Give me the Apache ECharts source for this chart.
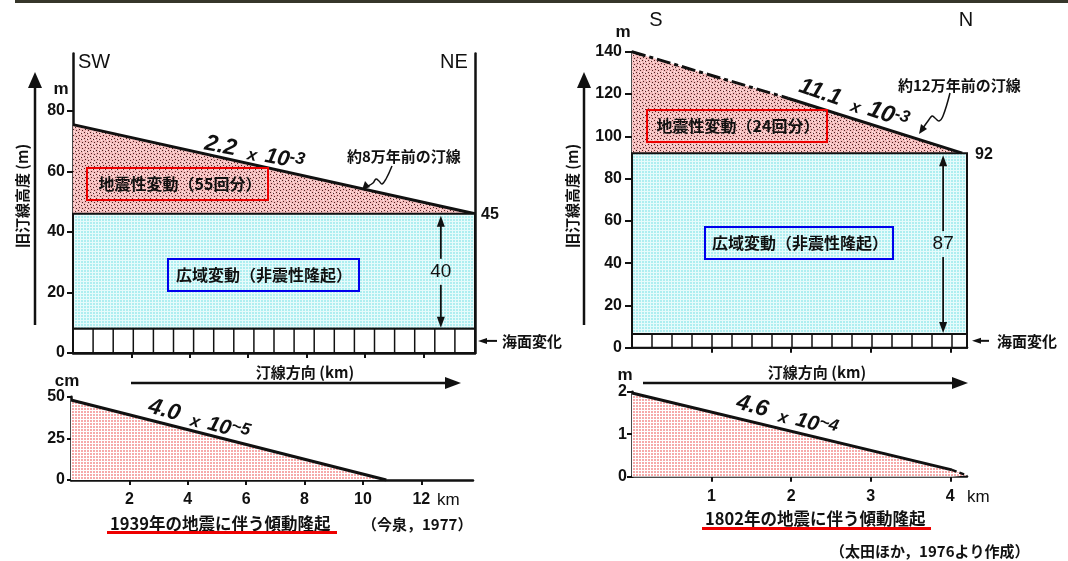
<!DOCTYPE html>
<html><head><meta charset="utf-8">
<script src="https://cdn.jsdelivr.net/npm/echarts@6/dist/echarts.min.js"></script>
<style>html,body{margin:0;padding:0;background:#fff}#c{width:1068px;height:561px}</style>
</head><body><div id="c"></div>
<script>
// ---------- DATA ----------
// Top-left panel (SW -> NE), shoreline direction in km, heights in m
const swKm = [0, 13.77];
const swShore8 = [75.5, 46];          // 約8万年前の汀線
const swWide = [8, 46];               // 広域変動（非震性隆起） band bottom/top
const swSea = [0, 8];                 // 海面変化 strip
const swYTicks = [0, 20, 40, 60, 80];
const swKmTicks = [2, 4, 6, 8, 10, 12];
const swArrowKm = 12.6;
// Bottom-left panel: 1939 earthquake tilting (cm)
const eq1939Km = [0, 10.8];
const eq1939Cm = [48, 0];
const eq1939YTicks = [0, 25, 50];
// Top-right panel (S -> N)
const snKm = [0, 4.21];
const snShoreKmDash = [0, 1.96];
const snShoreDash = [140, 118];
const snShoreKmSolid = [1.96, 4.15];
const snShoreSolid = [118, 92];       // 約12万年前の汀線
const snWide = [6.5, 92];
const snSea = [0, 6.5];
const snYTicks = [0, 20, 40, 60, 80, 100, 120, 140];
const snKmTicks = [1, 2, 3, 4];
const snArrowKm = 3.91;
// Bottom-right panel: 1802 earthquake tilting (m)
const eq1802KmSolid = [0, 4.02];
const eq1802MSolid = [1.97, 0.16];
const eq1802KmDash = [4.02, 4.21];
const eq1802MDash = [0.16, 0.03];
const eq1802YTicks = [0, 1, 2];

// ---------- STYLE ----------
const FN = '"Liberation Sans", Arial, sans-serif';
const FJ = '"Noto Sans CJK JP", sans-serif';
const INK = '#111';
function pattern(w, h, base, pixels) {
  const c = document.createElement('canvas'); c.width = w; c.height = h;
  const g = c.getContext('2d'); g.fillStyle = base; g.fillRect(0, 0, w, h);
  pixels.forEach(p => { g.fillStyle = p[2]; g.fillRect(p[0], p[1], 1, 1); });
  return { image: c, repeat: 'repeat' };
}
const D = '#4a2020', Wt = '#fde8e8';
const pinkDots = pattern(6, 6, '#f4bcbc', [[0,0,D],[3,1,D],[1,3,D],[4,4,D],[5,2,Wt],[2,5,Wt],[2,1,Wt],[4,0,Wt]]);
const cyanGrid = pattern(3, 3, '#aeeef0', [[2,0,'#e6fbfb'],[2,1,'#e6fbfb'],[2,2,'#e6fbfb'],[0,2,'#e6fbfb'],[1,2,'#e6fbfb']]);
const pinkGrid = pattern(3, 3, '#f6aaaa', [[2,0,'#fff'],[2,1,'#fff'],[2,2,'#fff'],[0,2,'#fff'],[1,2,'#fff']]);

const zip = (a, b) => a.map((v, i) => [v, b[i]]);

function bandRender(fill) {
  return function (params, api) {
    const a = api.coord([api.value(0), api.value(3)]);
    const b = api.coord([api.value(1), api.value(2)]);
    return { type: 'rect', shape: { x: a[0], y: a[1], width: b[0] - a[0], height: b[1] - a[1] },
      style: { fill: fill, stroke: INK, lineWidth: 2 } };
  };
}
function stripRender(cellPx) {
  return function (params, api) {
    const a = api.coord([api.value(0), api.value(3)]);
    const b = api.coord([api.value(1), api.value(2)]);
    const ch = [{ type: 'rect', shape: { x: a[0], y: a[1], width: b[0] - a[0], height: b[1] - a[1] },
      style: { fill: '#fff', stroke: INK, lineWidth: 2 } }];
    for (let x = a[0] + cellPx; x < b[0] - 4; x += cellPx) {
      ch.push({ type: 'line', shape: { x1: x, y1: a[1], x2: x, y2: b[1] }, style: { stroke: INK, lineWidth: 1.5 } });
    }
    return { type: 'group', children: ch };
  };
}

const lbl = (margin) => ({ color: INK, fontFamily: FN, fontWeight: 'bold', fontSize: 16, margin: margin });
function xAx(grid, max, ticks, showLabel, margin) {
  return { type: 'value', gridIndex: grid, min: 0, max: max,
    axisLine: { onZero: false, lineStyle: { color: INK, width: 2.5 } },
    axisTick: { show: true, customValues: ticks, length: 5, lineStyle: { color: INK, width: 2 } },
    axisLabel: Object.assign({ show: showLabel, customValues: ticks }, lbl(margin)),
    splitLine: { show: false } };
}
function yAx(grid, max, ticks, margin, tickLen, pos) {
  return { type: 'value', gridIndex: grid, min: 0, max: max, position: pos || 'left',
    axisLine: { onZero: false, lineStyle: { color: INK, width: 2.5 } },
    axisTick: { show: !pos, customValues: ticks, length: tickLen, lineStyle: { color: INK, width: 2 } },
    axisLabel: Object.assign({ show: !pos, customValues: ticks }, lbl(margin)),
    splitLine: { show: false } };
}

const option = {
  animation: false,
  backgroundColor: '#fff',
  grid: [
    { left: 73, top: 53.5, width: 402, height: 299.5, containLabel: false, outerBoundsMode: 'none' },
    { left: 632, top: 51.7, width: 335, height: 296, containLabel: false, outerBoundsMode: 'none' },
    { left: 71, top: 396.7, width: 402, height: 83.3, containLabel: false, outerBoundsMode: 'none' },
    { left: 632, top: 391.7, width: 335, height: 85, containLabel: false, outerBoundsMode: 'none' }
  ],
  xAxis: [
    xAx(0, swKm[1], swKmTicks, false, 10),
    xAx(1, snKm[1], snKmTicks, false, 10),
    xAx(2, swKm[1], swKmTicks, true, 12),
    xAx(3, snKm[1], snKmTicks, true, 12)
  ],
  yAxis: [
    yAx(0, 99, swYTicks, 8, 6),
    yAx(1, 140, snYTicks, 10, 7),
    yAx(2, 50, eq1939YTicks, 6, 4),
    yAx(3, 2, eq1802YTicks, 5, 5),
    yAx(0, 99, [], 0, 0, 'right')
  ],
  series: [
    // top-left
    { type: 'line', xAxisIndex: 0, yAxisIndex: 0, data: zip(swKm, swShore8), symbol: 'none', z: 2,
      lineStyle: { color: INK, width: 3 }, areaStyle: { color: pinkDots, opacity: 1 } },
    { type: 'custom', xAxisIndex: 0, yAxisIndex: 0, z: 3, renderItem: bandRender(cyanGrid),
      data: [[swKm[0], swKm[1], swWide[0], swWide[1]]] },
    { type: 'custom', xAxisIndex: 0, yAxisIndex: 0, z: 4, renderItem: stripRender(20.1),
      data: [[swKm[0], swKm[1], swSea[0], swSea[1]]] },
    // top-right
    { type: 'line', xAxisIndex: 1, yAxisIndex: 1, data: zip(snShoreKmDash, snShoreDash), symbol: 'none', z: 2,
      lineStyle: { color: INK, width: 3, type: [14, 4, 4, 4] }, areaStyle: { color: pinkDots, opacity: 1 } },
    { type: 'line', xAxisIndex: 1, yAxisIndex: 1, data: zip(snShoreKmSolid, snShoreSolid), symbol: 'none', z: 2,
      lineStyle: { color: INK, width: 3 }, areaStyle: { color: pinkDots, opacity: 1 } },
    { type: 'custom', xAxisIndex: 1, yAxisIndex: 1, z: 3, renderItem: bandRender(cyanGrid),
      data: [[snKm[0], snKm[1], snWide[0], snWide[1]]] },
    { type: 'custom', xAxisIndex: 1, yAxisIndex: 1, z: 4, renderItem: stripRender(20),
      data: [[snKm[0], snKm[1], snSea[0], snSea[1]]] },
    // bottom-left
    { type: 'line', xAxisIndex: 2, yAxisIndex: 2, data: zip(eq1939Km, eq1939Cm), symbol: 'none', z: 2,
      lineStyle: { color: INK, width: 3 }, areaStyle: { color: pinkGrid, opacity: 1 } },
    // bottom-right
    { type: 'line', xAxisIndex: 3, yAxisIndex: 3, data: zip(eq1802KmSolid, eq1802MSolid), symbol: 'none', z: 2,
      lineStyle: { color: INK, width: 3 }, areaStyle: { color: pinkGrid, opacity: 1 } },
    { type: 'line', xAxisIndex: 3, yAxisIndex: 3, data: zip(eq1802KmDash, eq1802MDash), symbol: 'none', z: 2,
      lineStyle: { color: INK, width: 2.5, type: [5, 3] }, areaStyle: { color: pinkGrid, opacity: 1 } }
  ]
};

const chart = echarts.init(document.getElementById('c'), null, { renderer: 'canvas' });
chart.setOption(option);

// ---------- ANNOTATIONS ----------
function T(x, y, text, o) {
  o = o || {};
  const st = { text: text, fill: o.color || INK, fontSize: o.size || 15, fontFamily: o.family || FJ,
      fontWeight: o.weight || 'bold', fontStyle: o.style || 'normal',
      align: o.align || 'left', verticalAlign: o.va || 'middle' };
  if (o.rich) st.rich = o.rich;
  return { type: 'text', x: x, y: y, rotation: o.rot || 0, z: 100, style: st };
}
function L(x1, y1, x2, y2, w, color) {
  return { type: 'line', z: 100, shape: { x1: x1, y1: y1, x2: x2, y2: y2 }, style: { stroke: color || INK, lineWidth: w || 2 } };
}
function P(points) { return { type: 'polygon', z: 100, shape: { points: points }, style: { fill: INK } }; }
function PL(points) { return { type: 'polyline', z: 100, shape: { points: points, smooth: 0.4 }, style: { stroke: INK, lineWidth: 1.5, fill: null } }; }
function R(x, y, w, h, color) {
  return { type: 'rect', z: 100, shape: { x: x, y: y, width: w, height: h }, style: { fill: null, stroke: color, lineWidth: 2 } };
}
function vArrow(x, yTop, yBot, label) {
  const mid = (yTop + yBot) / 2;
  return [
    L(x, yTop + 6, x, mid - 13, 1.8), L(x, mid + 13, x, yBot - 6, 1.8),
    P([[x, yTop], [x - 4, yTop + 11], [x + 4, yTop + 11]]),
    P([[x, yBot], [x - 4, yBot - 11], [x + 4, yBot - 11]]),
    T(x, mid, label, { family: FN, size: 19, weight: 'normal', align: 'center' })
  ];
}
function expText(x, y, rot, a, b, sup, sa, sb) {
  return T(x, y, '{n|' + a + '}{x|x}{m|' + b + '}{e|' + sup + '}', {
    rot: rot, va: 'middle',
    rich: {
      n: { fontSize: sa, fontFamily: FN, fontStyle: 'italic', fontWeight: 'bold', color: INK, verticalAlign: 'bottom' },
      x: { fontSize: 17, fontFamily: FN, fontStyle: 'italic', fontWeight: 'bold', color: INK, verticalAlign: 'bottom', padding: [0, 8, 0, 12] },
      m: { fontSize: sb, fontFamily: FN, fontStyle: 'italic', fontWeight: 'bold', color: INK, verticalAlign: 'bottom' },
      e: { fontSize: 17, fontFamily: FN, fontStyle: 'italic', fontWeight: 'bold', color: INK, verticalAlign: 'top' }
    }
  });
}
const px = (xi, yi, x, y) => chart.convertToPixel({ xAxisIndex: xi, yAxisIndex: yi }, [x, y]);

const g = [];
// top border
g.push({ type: 'rect', z: 100, shape: { x: 15, y: 0, width: 1053, height: 3 }, style: { fill: '#36362a' } });

// ---- top-left panel ----
g.push(T(78, 62, 'SW', { family: FN, size: 20, weight: 'normal' }));
g.push(T(440, 62, 'NE', { family: FN, size: 20, weight: 'normal' }));
g.push(T(61, 89, 'm', { family: FN, size: 17, align: 'center' }));
g.push(T(22, 196, '旧汀線高度 (m)', { size: 15, align: 'center', rot: Math.PI / 2 }));
g.push(L(35, 86, 35, 325, 2.5), P([[35, 72], [28, 88], [42, 88]]));
g.push(R(87, 168, 181, 32, '#ee0000'), T(180, 184, '地震性変動（55回分）', { size: 16, align: 'center' }));
g.push(R(168, 259, 191, 32, '#0000ee'), T(264, 275, '広域変動（非震性隆起）', { size: 16, align: 'center' }));
g.push(T(347, 156, '約8万年前の汀線', { size: 15 }));
g.push(PL([[392, 166], [386, 179], [382, 184], [379, 181], [376, 179], [373, 183], [368, 186]]));
g.push(P([[362, 190], [365, 181], [370, 187]]));
g.push(expText(205, 143, -0.2, '2.2', '10', '-3', 23, 22));
(function () {
  const e = px(0, 0, swKm[1], swShore8[1]);
  g.push(T(e[0] + 6, e[1] + 1, '45', { family: FN, size: 16 }));
  const t = px(0, 0, swArrowKm, swWide[1]), b = px(0, 0, swArrowKm, swWide[0]);
  vArrow(t[0], t[1] + 2, b[1] - 1, '40').forEach(x => g.push(x));
  const s = px(0, 0, swKm[1], (swSea[0] + swSea[1]) / 2);
  g.push(L(s[0] + 8, s[1], s[0] + 22, s[1], 2), P([[s[0] + 3, s[1]], [s[0] + 12, s[1] - 3], [s[0] + 12, s[1] + 3]]));
  g.push(T(s[0] + 27, s[1], '海面変化', { size: 15 }));
})();

// ---- top-right panel ----
g.push(T(656, 20, 'S', { family: FN, size: 20, weight: 'normal', align: 'center' }));
g.push(T(966, 20, 'N', { family: FN, size: 20, weight: 'normal', align: 'center' }));
g.push(T(623, 32, 'm', { family: FN, size: 17, align: 'center' }));
g.push(T(572, 196, '旧汀線高度 (m)', { size: 15, align: 'center', rot: Math.PI / 2 }));
g.push(L(584, 86, 584, 325, 2.5), P([[584, 72], [577, 88], [591, 88]]));
g.push(R(647, 110, 180, 32, '#ee0000'), T(738, 126, '地震性変動（24回分）', { size: 16, align: 'center' }));
g.push(R(705, 227, 188, 32, '#0000ee'), T(800, 243, '広域変動（非震性隆起）', { size: 16, align: 'center' }));
g.push(T(898, 85, '約12万年前の汀線', { size: 15 }));
g.push(PL([[950, 93], [943, 116], [939, 121], [935, 118], [932, 116], [928, 121], [923, 128]]));
g.push(P([[919, 134], [921, 124], [927, 129]]));
g.push(expText(800, 85, -0.33, '11.1', '10', '-3', 23, 24));
(function () {
  const e = px(1, 1, snKm[1], snShoreSolid[1]);
  g.push(T(e[0] + 8, e[1] + 1, '92', { family: FN, size: 16 }));
  const t = px(1, 1, snArrowKm, snWide[1]), b = px(1, 1, snArrowKm, snWide[0]);
  vArrow(t[0], t[1] + 2, b[1] - 1, '87').forEach(x => g.push(x));
  const s = px(1, 1, snKm[1], (snSea[0] + snSea[1]) / 2);
  g.push(L(s[0] + 10, s[1], s[0] + 22, s[1], 2), P([[s[0] + 5, s[1]], [s[0] + 14, s[1] - 3], [s[0] + 14, s[1] + 3]]));
  g.push(T(s[0] + 30, s[1], '海面変化', { size: 15 }));
})();

// ---- bottom-left panel ----
g.push(T(67, 381, 'cm', { family: FN, size: 17, align: 'center' }));
g.push(L(131, 383, 446, 383, 2.5), P([[461, 383], [445, 377], [445, 389]]));
g.push(T(305, 372, '汀線方向 (km)', { size: 15, align: 'center' }));
g.push(expText(149, 406, -0.27, '4.0', '10', '~5', 23, 21));
g.push(T(437, 500, 'km', { family: FN, size: 17, weight: 'normal' }));
g.push(T(110, 524, '1939年の地震に伴う傾動隆起', { size: 16.5 }));
g.push({ type: 'rect', z: 100, shape: { x: 107, y: 531, width: 230, height: 3 }, style: { fill: '#ee0000' } });
g.push(T(362, 524, '（今泉，1977）', { size: 15 }));

// ---- bottom-right panel ----
g.push(T(625, 375, 'm', { family: FN, size: 17, align: 'center' }));
g.push(L(643, 383, 953, 383, 2.5), P([[968, 383], [952, 377], [952, 389]]));
g.push(T(817, 372, '汀線方向 (km)', { size: 15, align: 'center' }));
g.push(expText(737, 402, -0.27, '4.6', '10', '~4', 23, 21));
g.push(T(967, 497, 'km', { family: FN, size: 17, weight: 'normal' }));
g.push(T(705, 519, '1802年の地震に伴う傾動隆起', { size: 16.5 }));
g.push({ type: 'rect', z: 100, shape: { x: 702, y: 527, width: 229, height: 3 }, style: { fill: '#ee0000' } });
g.push(T(830, 551, '（太田ほか，1976より作成）', { size: 15 }));

chart.setOption({ graphic: g });
</script>
</body></html>
